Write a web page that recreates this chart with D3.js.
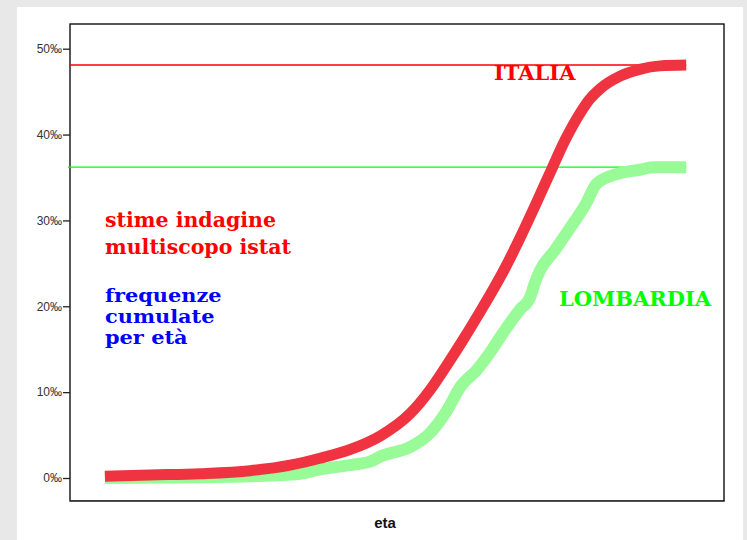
<!DOCTYPE html>
<html>
<head>
<meta charset="utf-8">
<script src="https://cdn.jsdelivr.net/npm/d3@7"></script>
<style>
  html, body { margin: 0; padding: 0; background: #e8e8e8; }
  svg { display: block; }
</style>
</head>
<body>
<svg id="chart" width="747" height="540"></svg>
<script>
// ---- data (per mille, cumulative by age) ----
const italiaEta = [14.8, 21.0, 27.9, 34.8, 40.3, 44.4, 48.5, 52.7, 56.8, 59.5, 61.9, 64.1, 66.4, 67.8, 69.9, 71.9, 74.0, 76.3, 78.1, 80.2, 81.5, 82.9, 85.7, 88.4, 91.2, 94.8];
const italiaVal = [0.2, 0.35, 0.5, 0.85, 1.5, 2.3, 3.3, 4.9, 7.5, 10.2, 13.2, 16.1, 19.3, 21.3, 24.5, 27.9, 31.7, 36.0, 39.3, 42.5, 44.1, 45.3, 46.8, 47.6, 48.0, 48.1];
const lombEta = [14.8, 27.9, 34.8, 41.7, 44.4, 48.5, 51.3, 52.7, 56.8, 59.5, 61.9, 63.7, 66.0, 67.8, 69.2, 70.5, 71.9, 73.3, 74.0, 74.7, 76.7, 78.8, 80.9, 82.5, 85.7, 88.4, 90.2, 94.8];
const lombVal = [0.0, 0.1, 0.2, 0.5, 1.0, 1.5, 1.9, 2.5, 3.6, 5.2, 7.9, 10.6, 12.6, 14.6, 16.4, 18.0, 19.6, 21.0, 22.8, 24.2, 26.5, 29.1, 31.8, 34.3, 35.5, 35.9, 36.2, 36.2];
const refLines = [48.1, 36.2];       // totals: Italia, Lombardia
const yTicks = [0, 10, 20, 30, 40, 50];
const yTickLabels = ["0‰", "10‰", "20‰", "30‰", "40‰", "50‰"];
const noteRed = ["stime indagine", "multiscopo istat"];
const noteBlue = ["frequenze", "cumulate", "per età"];

// ---- layout ----
const svg = d3.select("#chart");
svg.append("rect").attr("x", 17).attr("y", 7).attr("width", 726).attr("height", 540).attr("fill", "#fff");

const L = 70, R = 724, T = 24, B = 501;
const x = d3.scaleLinear().domain([10, 100]).range([L, R]);
const y = d3.scaleLinear().domain([0, 50]).range([478, 48.7]);

// frame
svg.append("rect").attr("x", L + 1).attr("y", B - 1).attr("width", R - L).attr("height", 1.2).attr("fill", "#999");
svg.append("rect").attr("x", L).attr("y", T).attr("width", R - L).attr("height", B - T)
  .attr("fill", "none").attr("stroke", "#111").attr("stroke-width", 1.4);

// y axis
const yAxis = d3.axisLeft(y).tickValues(yTicks).tickSize(7).tickPadding(1)
  .tickFormat((d, i) => yTickLabels[i]);
const ga = svg.append("g").attr("transform", `translate(${L},0)`).call(yAxis);
ga.select(".domain").remove();
ga.selectAll(".tick line").attr("stroke", "#222").attr("stroke-width", 1.3);
ga.selectAll(".tick text").attr("fill", "#333").style("font-family", "Arial, 'Liberation Sans', sans-serif").style("font-size", "12px");

// reference lines
const lastX = x(d3.max(italiaEta));
svg.append("line").attr("x1", L).attr("x2", lastX).attr("y1", y(refLines[0])).attr("y2", y(refLines[0]))
  .attr("stroke", "#ff0000").attr("stroke-width", 1.3);
svg.append("line").attr("x1", L - 2).attr("x2", lastX).attr("y1", y(refLines[1])).attr("y2", y(refLines[1]))
  .attr("stroke", "#00ff00").attr("stroke-width", 1.3);

// curves
const lombData = lombEta.map((e, i) => [e, lombVal[i]]);
const itaData = italiaEta.map((e, i) => [e, italiaVal[i]]);
svg.append("path").datum(lombData)
  .attr("d", d3.line().x(d => x(d[0])).y(d => y(d[1])).curve(d3.curveMonotoneX))
  .attr("fill", "none").attr("stroke", "#98fb98").attr("stroke-width", 12);
svg.append("path").datum(itaData)
  .attr("d", d3.line().x(d => x(d[0])).y(d => y(d[1])).curve(d3.curveMonotoneX))
  .attr("fill", "none").attr("stroke", "#ef3340").attr("stroke-width", 11);

// annotations
const serif = "'DejaVu Serif', 'Liberation Serif', serif";
svg.append("text").attr("x", 494).attr("y", 80).text("ITALIA")
  .attr("fill", "#ff0000").style("font-family", serif).style("font-weight", "bold").style("font-size", "21px");
svg.append("text").attr("x", 559).attr("y", 306).text("LOMBARDIA")
  .attr("fill", "#00ff00").style("font-family", serif).style("font-weight", "bold").style("font-size", "21px");

svg.selectAll("text.nr").data(noteRed).join("text").attr("class", "nr")
  .attr("x", 105).attr("y", (d, i) => 227 + i * 27).text(d => d)
  .attr("fill", "#ff0000").style("font-family", serif).style("font-weight", "bold").style("font-size", "20.5px");

// blue note: tight line spacing, horizontally widened serif
const gb = svg.append("g").attr("transform", "translate(105,0) scale(1.16,1)");
gb.selectAll("text.nb").data(noteBlue).join("text").attr("class", "nb")
  .attr("x", 0).attr("y", (d, i) => 302 + i * 21).text(d => d)
  .attr("fill", "#0000ff").style("font-family", serif).style("font-weight", "bold").style("font-size", "18px");

// x axis title
svg.append("text").attr("x", 385).attr("y", 528).attr("text-anchor", "middle").text("eta")
  .attr("fill", "#111").style("font-family", "Arial, 'Liberation Sans', sans-serif").style("font-weight", "bold").style("font-size", "15px");
</script>
</body>
</html>
